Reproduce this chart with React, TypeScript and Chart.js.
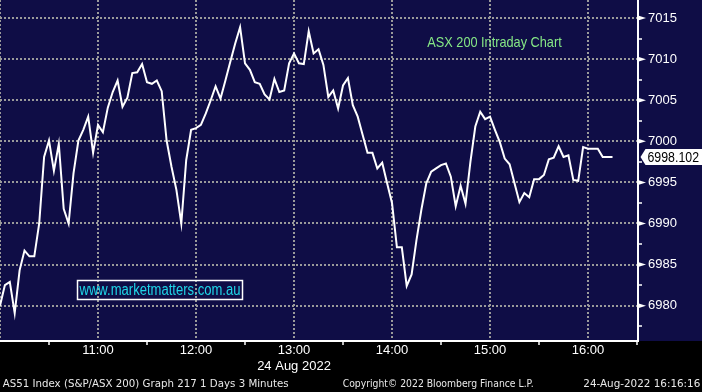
import React, { useEffect, useRef } from 'react';
import { Chart, registerables } from 'chart.js';

Chart.register(...registerables);

// ---- data ----
const sessionStartMinutes = 600; // 10:00
const barMinutes = 3;
const prices = [
  6980.0, 6982.5, 6982.9, 6979.1, 6984.3, 6986.7, 6986.0, 6986.0, 6990.0, 6998.1,
  7000.1, 6996.4, 6999.7, 6991.8, 6990.0, 6996.1, 7000.1, 7001.4, 7003.0, 6998.6,
  7002.0, 7001.1, 7004.1, 7006.0, 7007.4, 7004.2, 7005.3, 7008.3, 7008.4, 7009.4,
  7007.2, 7007.0, 7007.4, 7006.1, 7000.1, 6996.9, 6994.1, 6990.0, 6997.7, 7001.4,
  7001.6, 7002.0, 7003.4, 7005.0, 7006.7, 7005.2, 7007.4, 7009.7, 7011.9, 7013.9,
  7009.5, 7008.7, 7007.2, 7007.0, 7005.7, 7005.1, 7007.6, 7006.0, 7006.2, 7009.5,
  7010.7, 7009.5, 7009.4, 7013.4, 7010.7, 7011.2, 7009.3, 7005.4, 7006.2, 7004.0,
  7006.8, 7007.7, 7004.4, 7003.0, 7000.8, 6998.6, 6998.6, 6996.7, 6997.4, 6994.9,
  6992.5, 6987.1, 6987.1, 6982.4, 6983.8, 6988.0, 6991.7, 6994.9, 6996.3, 6996.7,
  6997.1, 6997.3, 6995.7, 6992.1, 6994.6, 6992.4, 6997.5, 7001.8, 7003.6, 7002.7,
  7003.0, 7001.4, 6999.9, 6997.9, 6997.2, 6994.9, 6992.6, 6993.7, 6993.2, 6995.4,
  6995.4, 6995.9, 6997.8, 6998.0, 6999.4, 6998.1, 6998.3, 6995.3, 6995.2, 6999.3,
  6999.1, 6999.1, 6999.1, 6998.1, 6998.1, 6998.102,
];
const lastPrice = 6998.102;
const yMin = 6975.7;
const yMax = 7017.2;
const yMinorStep = 2.5;
const yMajorStep = 5;
const xMin = 600;
const xMax = 990.6;
const xMinorStep = 30;
const hourTicks = [660, 720, 780, 840, 900, 960];
const hourLabels = ['11:00', '12:00', '13:00', '14:00', '15:00', '16:00'];
const dateLabel = '24 Aug 2022';
const dateLabelHour = 780;
const titleText = 'ASX 200 Intraday Chart';
const watermarkText = 'www.marketmatters.com.au';
const footerLeft = 'AS51 Index (S&P/ASX 200) Graph 217 1 Days 3 Minutes';
const footerMid = 'Copyright\u00A9 2022 Bloomberg Finance L.P.';
const footerRight = '24-Aug-2022 16:16:16';

// ---- styles ----
const NAVY = '#0f0d46';
const GRID = '#9a9a9a';
const SANS = "'Liberation Sans', Arial, sans-serif";

function fitText(ctx: CanvasRenderingContext2D, text: string, x: number, baseline: number, width: number, font: string, color: string) {
  ctx.save();
  ctx.font = font;
  ctx.textAlign = 'left';
  ctx.textBaseline = 'alphabetic';
  const w = ctx.measureText(text).width;
  ctx.translate(x, baseline);
  ctx.scale(width / w, 1);
  ctx.fillStyle = color;
  ctx.fillText(text, 0, 0);
  ctx.restore();
}

const isMajorY = (v: number) => Math.abs(Math.round(v * 1000) % (yMajorStep * 1000)) === 0;
const isHour = (v: number) => Math.round(v) % 60 === 0;

const decor = {
  id: 'decor',
  beforeDraw(chart: any) {
    const { ctx, width, height, chartArea } = chart;
    ctx.save();
    ctx.fillStyle = '#000';
    ctx.fillRect(0, 0, width, height);
    ctx.fillStyle = NAVY;
    ctx.fillRect(0, 0, width, chartArea.bottom);
    ctx.restore();
  },
  afterDraw(chart: any) {
    const { ctx, chartArea } = chart;
    const y = chart.scales.y;
    ctx.save();
    // major tick arrows
    ctx.fillStyle = '#ffffff';
    y.ticks.forEach((t: any) => {
      if (!isMajorY(t.value)) return;
      const py = y.getPixelForValue(t.value);
      ctx.beginPath();
      ctx.moveTo(chartArea.right, py - 2.5);
      ctx.lineTo(chartArea.right + 8, py);
      ctx.lineTo(chartArea.right, py + 2.5);
      ctx.closePath();
      ctx.fill();
    });
    // last price label
    const py = y.getPixelForValue(lastPrice);
    const tip = chartArea.right + 2.5;
    ctx.beginPath();
    ctx.moveTo(tip, py);
    ctx.lineTo(tip + 5, py - 8);
    ctx.lineTo(chart.width, py - 8);
    ctx.lineTo(chart.width, py + 8);
    ctx.lineTo(tip + 5, py + 8);
    ctx.closePath();
    ctx.fillStyle = '#ffffff';
    ctx.fill();
    fitText(ctx, lastPrice.toFixed(3), tip + 7, py + 5, 51.5, `14px ${SANS}`, '#000000');

    // title
    fitText(ctx, titleText, 427.3, 46.5, 134.4, `15px ${SANS}`, '#86e886');
    // watermark
    ctx.strokeStyle = '#ffffff';
    ctx.lineWidth = 1.5;
    ctx.strokeRect(77.5, 280.5, 165, 19);
    fitText(ctx, watermarkText, 79.5, 295, 161, `16px ${SANS}`, '#1fd5e8');
    // footer
    const ff = "10px 'DejaVu Sans', sans-serif";
    fitText(ctx, footerLeft, 2.7, 387, 286, ff, '#e8e8e8');
    fitText(ctx, footerMid, 342.7, 387, 191, ff, '#e8e8e8');
    fitText(ctx, footerRight, 583.3, 387, 117, ff, '#e8e8e8');
    ctx.restore();
  },
};

export default function App() {
  const ref = useRef<HTMLCanvasElement>(null);
  useEffect(() => {
    if (!ref.current) return;
    const data = prices.map((p, i) => ({ x: sessionStartMinutes + i * barMinutes, y: p }));
    const chart = new Chart(ref.current, {
      type: 'line',
      data: {
        datasets: [
          {
            data,
            borderColor: '#ffffff',
            borderWidth: 2,
            pointRadius: 0,
            tension: 0,
            fill: false,
          },
        ],
      },
      options: {
        responsive: false,
        animation: false,
        devicePixelRatio: 1,
        layout: { padding: 0 },
        plugins: { legend: { display: false }, tooltip: { enabled: false }, title: { display: false } },
        scales: {
          x: {
            type: 'linear',
            position: 'bottom',
            min: xMin,
            max: xMax,
            afterBuildTicks: (s: any) => {
              const t: any[] = [];
              for (let m = xMin; m <= xMax; m += xMinorStep) t.push({ value: m });
              s.ticks = t;
            },
            afterFit: (s: any) => {
              s.height = 51;
              s.paddingLeft = 0;
              s.paddingRight = 0;
            },
            grid: {
              lineWidth: 2,
              color: (c: any) => (c.tick && isHour(c.tick.value) ? GRID : 'rgba(0,0,0,0)'),
              tickLength: 4,
              tickWidth: 1.5,
              tickColor: (c: any) => (c.tick && !isHour(c.tick.value) ? '#ffffff' : 'rgba(0,0,0,0)'),
            },
            border: { display: true, color: '#ffffff', width: 2, dash: [2, 2] },
            ticks: {
              autoSkip: false,
              maxRotation: 0,
              minRotation: 0,
              padding: -2,
              color: '#ffffff',
              font: { family: SANS, size: 13, lineHeight: 1.2 },
              callback: (v: any) => {
                const i = hourTicks.indexOf(Math.round(v));
                if (i < 0) return '';
                return Math.round(v) === dateLabelHour ? [hourLabels[i], dateLabel] : hourLabels[i];
              },
            },
          },
          y: {
            type: 'linear',
            position: 'right',
            min: yMin,
            max: yMax,
            afterBuildTicks: (s: any) => {
              const t: any[] = [];
              for (let v = Math.ceil(yMin / yMinorStep) * yMinorStep; v <= yMax; v += yMinorStep) t.push({ value: v });
              s.ticks = t;
            },
            afterFit: (s: any) => {
              s.width = 64;
              s.paddingTop = 0;
              s.paddingBottom = 0;
            },
            grid: {
              lineWidth: 2,
              color: (c: any) => (c.tick && isMajorY(c.tick.value) ? GRID : 'rgba(0,0,0,0)'),
              tickLength: 4,
              tickWidth: 1.5,
              tickColor: (c: any) => (c.tick && !isMajorY(c.tick.value) ? '#ffffff' : 'rgba(0,0,0,0)'),
            },
            border: { display: true, color: '#ffffff', width: 2, dash: [2, 2] },
            ticks: {
              autoSkip: false,
              padding: 6,
              color: '#ffffff',
              font: { family: SANS, size: 13 },
              callback: (v: any) => (isMajorY(v) ? String(v) : ''),
            },
          },
        },
      },
      plugins: [decor],
    });
    return () => chart.destroy();
  }, []);
  return (
    <div style={{ position: 'absolute', left: 0, top: 0, width: 702, height: 392 }}>
      <canvas ref={ref} width={702} height={392} style={{ display: 'block', width: 702, height: 392 }} />
    </div>
  );
}
